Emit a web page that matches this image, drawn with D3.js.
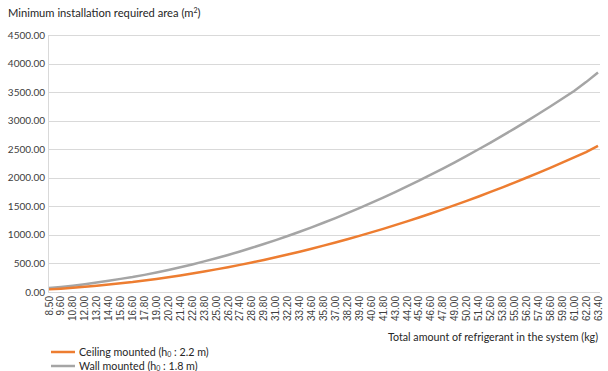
<!DOCTYPE html>
<meta charset="utf-8">
<script src="https://d3js.org/d3.v7.min.js"></script>
<style>
  body { margin: 0; background: #fff; }
  svg { display: block; font-family: Lato, "Noto Sans", sans-serif; }
  .ytick { font-size: 10px; fill: #404040; }
  .xtick { font-family: "Liberation Sans", Arial, sans-serif; font-size: 10px; fill: #404040; }
</style>
<div id="chart"></div>
<script>
// refrigerant amount (kg) - category labels on the x axis
var amounts = ["8.50","9.60","10.80","12.00","13.20","14.40","15.60","16.60","17.80","19.00",
  "20.20","21.40","22.60","23.80","25.00","26.20","27.40","28.60","29.80","31.00",
  "32.20","33.40","34.60","35.80","37.00","38.20","39.40","40.60","41.80","43.00",
  "44.20","45.40","46.60","47.80","49.00","50.20","51.40","52.60","53.80","55.00",
  "56.20","57.40","58.60","59.80","61.00","62.20","63.40"];

// ceiling mounted, h0 2.2 m (m2)
var ceiling = [46,58,74,91,110,131,154,175,201,229,
  258,290,323,359,396,435,475,518,562,609,
  657,706,758,812,867,924,983,1044,1106,1171,
  1237,1305,1375,1447,1520,1596,1673,1752,1833,1915,
  2000,2086,2174,2264,2356,2450,2560];

// wall mounted, h0 1.8 m (m2)
var wall = [68,87,110,136,165,196,230,261,300,342,
  386,433,483,536,591,649,710,774,840,909,
  981,1055,1132,1212,1295,1380,1468,1559,1653,1749,
  1848,1950,2054,2161,2271,2384,2499,2617,2738,2861,
  2988,3117,3248,3383,3520,3675,3845];

var yTicks = [0,500,1000,1500,2000,2500,3000,3500,4000,4500];

var W = 608, H = 371;
var plotLeft = 48, plotRight = 600, plotTop = 35, plotBottom = 292;

var svg = d3.select("#chart").append("svg")
  .attr("width", W).attr("height", H);

var x = d3.scalePoint().domain(amounts).range([plotLeft + 1, 598]);
var y = d3.scaleLinear().domain([0, 4500]).range([plotBottom, plotTop]);

// gridlines
svg.append("g").selectAll("line").data(yTicks).enter().append("line")
  .attr("x1", plotLeft).attr("x2", plotRight)
  .attr("y1", function(d) { return Math.round(y(d)) + 0.5; })
  .attr("y2", function(d) { return Math.round(y(d)) + 0.5; })
  .attr("stroke", "#d9d9d9").attr("stroke-width", 1);

// y axis line
svg.append("line").attr("x1", plotLeft + 0.5).attr("x2", plotLeft + 0.5)
  .attr("y1", plotTop).attr("y2", plotBottom + 1)
  .attr("stroke", "#d9d9d9");

// y labels
svg.append("g").selectAll("text").data(yTicks).enter().append("text")
  .attr("class", "ytick")
  .attr("x", plotLeft - 3)
  .attr("y", function(d) { return y(d) + 3.5; })
  .attr("text-anchor", "end")
  .text(function(d) { return d3.format(".2f")(d); });

// x labels (rotated)
svg.append("g").selectAll("text").data(amounts).enter().append("text")
  .attr("class", "xtick")
  .attr("transform", function(d) { return "translate(" + (x(d) + 3.5) + "," + (plotBottom + 4) + ") rotate(-90)"; })
  .attr("text-anchor", "end")
  .text(function(d) { return d; });

var line = d3.line()
  .x(function(d, i) { return x(amounts[i]); })
  .y(function(d) { return y(d); });

svg.append("path").datum(wall)
  .attr("d", line).attr("fill", "none")
  .attr("stroke", "#a5a5a5").attr("stroke-width", 2.5);

svg.append("path").datum(ceiling)
  .attr("d", line).attr("fill", "none")
  .attr("stroke", "#ed7d31").attr("stroke-width", 2.5);

// titles
var t = svg.append("text").attr("x", 8).attr("y", 17)
  .attr("font-size", 11.2).attr("fill", "#262626");
t.append("tspan").text("Minimum installation required area (m");
t.append("tspan").attr("font-size", 7).attr("dy", -4).text("2");
t.append("tspan").attr("dy", 4).text(")");

svg.append("text").attr("x", 598).attr("y", 341)
  .attr("text-anchor", "end").attr("font-size", 10.7).attr("fill", "#262626")
  .text("Total amount of refrigerant in the system (kg)");

// legend
var legend = [
  {name: "Ceiling mounted", h: "2.2 m", color: "#ed7d31"},
  {name: "Wall mounted", h: "1.8 m", color: "#a5a5a5"}
];
legend.forEach(function(d, i) {
  var ly = 352 + i * 14;
  svg.append("line").attr("x1", 51).attr("x2", 75)
    .attr("y1", ly).attr("y2", ly)
    .attr("stroke", d.color).attr("stroke-width", 2.5);
  var lt = svg.append("text").attr("x", 79).attr("y", ly + 4)
    .attr("font-size", 10.7).attr("fill", "#262626");
  lt.append("tspan").text(d.name + " (h");
  lt.append("tspan").attr("font-size", 7).attr("dy", 1).text("0");
  lt.append("tspan").attr("dy", -1).text(" : " + d.h + ")");
});
</script>
